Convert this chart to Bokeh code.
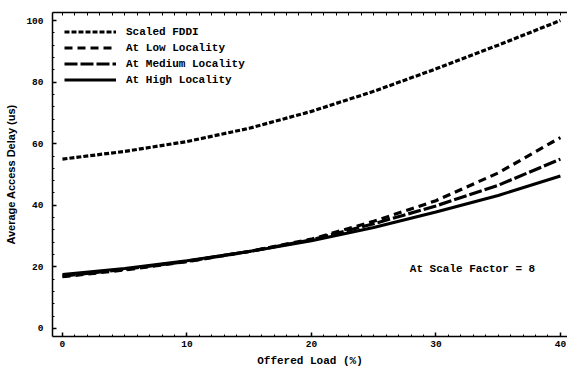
from bokeh.plotting import figure
from bokeh.models import LinearAxis, Range1d, Legend, LegendItem, Label, FixedTicker
from bokeh.embed import file_html
from bokeh.resources import INLINE

# ---- data ----
load = [0, 5, 10, 15, 20, 25, 30, 35, 40]
fddi = [55.0, 57.5, 60.7, 65.0, 70.5, 77.0, 84.3, 92.0, 100.0]
low_loc = [16.8, 19.0, 21.7, 25.0, 29.0, 34.8, 41.5, 50.5, 62.0]
med_loc = [17.0, 19.2, 21.8, 25.0, 28.8, 34.0, 39.8, 46.5, 55.0]
high_loc = [17.5, 19.5, 22.0, 25.0, 28.5, 32.8, 37.8, 43.2, 49.5]
series_names = ["Scaled FDDI", "At Low Locality", "At Medium Locality", "At High Locality"]
x_ticks = [0, 10, 20, 30, 40]
y_ticks = [0, 20, 40, 60, 80, 100]

MONO = "Liberation Mono"
SANS = "Liberation Sans"

p = figure(width=567, height=370, output_backend="svg", toolbar_location=None,
           x_range=Range1d(-0.8, 40.57), y_range=Range1d(-2.6, 102.6),
           min_border_left=52, min_border_right=0, min_border_top=12,
           min_border_bottom=34)
p.outline_line_color = None
p.grid.visible = False
p.background_fill_color = "white"
p.border_fill_color = "white"

styles = [
    dict(line_width=3.2, line_dash="5 2"),
    dict(line_width=3.2, line_dash="8 5"),
    dict(line_width=3.2, line_dash="13 3"),
    dict(line_width=3.0, line_dash="solid"),
]
renderers = []
for ys, st in zip([fddi, low_loc, med_loc, high_loc], styles):
    renderers.append(p.line(load, ys, line_color="black", **st))


def style_axis(ax):
    ax.axis_line_color = "black"
    ax.axis_line_width = 1.5
    ax.major_tick_in = 4
    ax.major_tick_out = 0
    ax.minor_tick_in = 2
    ax.minor_tick_out = 0
    ax.major_tick_line_color = "black"
    ax.minor_tick_line_color = "black"
    ax.major_tick_line_width = 1.5
    ax.major_label_text_font = MONO
    ax.major_label_text_font_style = "bold"
    ax.major_label_text_font_size = "9.5px"
    ax.major_label_text_color = "black"
    ax.axis_label_text_color = "black"


xax = p.xaxis[0]
xax.ticker = FixedTicker(ticks=x_ticks, minor_ticks=list(range(0, 41)))
style_axis(xax)
xax.major_label_standoff = 4
xax.axis_label = "Offered Load (%)"
xax.axis_label_text_font = MONO
xax.axis_label_text_font_style = "bold"
xax.axis_label_text_font_size = "11px"
xax.axis_label_standoff = 5

yax = p.yaxis[0]
yax.ticker = FixedTicker(ticks=y_ticks, minor_ticks=list(range(0, 101, 4)))
style_axis(yax)
yax.major_label_standoff = 9
yax.axis_label = "Average Access Delay (us)"
yax.axis_label_text_font = SANS
yax.axis_label_text_font_style = "bold"
yax.axis_label_text_font_size = "11px"
yax.axis_label_standoff = 6

# top frame line with small inward ticks (no labels)
top = LinearAxis(ticker=FixedTicker(ticks=[], minor_ticks=list(range(0, 41))))
style_axis(top)
top.minor_tick_in = 3
p.add_layout(top, "above")

items = [LegendItem(label=n, renderers=[r]) for n, r in zip(series_names, renderers)]
leg = Legend(items=items, location="top_left", margin=12, padding=0,
             glyph_width=52, glyph_height=15, label_height=15, spacing=1,
             label_standoff=10, border_line_alpha=0, background_fill_alpha=0,
             label_text_font=MONO, label_text_font_style="bold",
             label_text_font_size="11px", label_text_color="black")
p.add_layout(leg)

p.add_layout(Label(x=27.9, y=19.2, text="At Scale Factor = 8",
                   text_font=MONO, text_font_style="bold", text_font_size="11px",
                   text_baseline="middle", text_color="black"))

open("out.html", "w").write(file_html(p, INLINE))
